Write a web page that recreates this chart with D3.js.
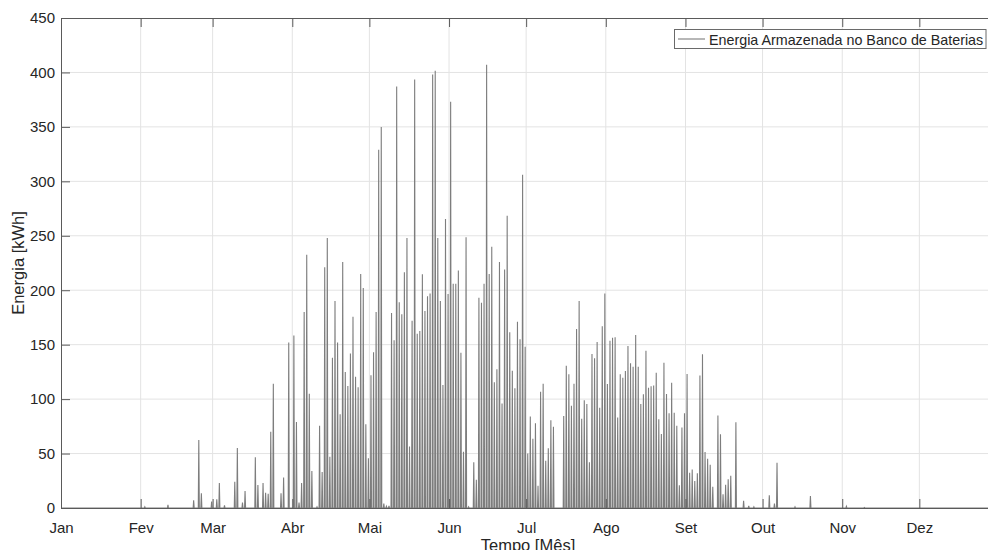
<!DOCTYPE html>
<html>
<head>
<meta charset="utf-8">
<script src="https://cdn.jsdelivr.net/npm/d3@7"></script>
<style>
  html, body { margin: 0; padding: 0; background: #ffffff; }
  svg { display: block; }
  text { font-family: "Liberation Sans", Arial, Helvetica, sans-serif; fill: #262626; }
</style>
</head>
<body>
<svg id="chart" width="988" height="550"></svg>
<script>
// ---- Data ----
const monthLabels = ["Jan", "Fev", "Mar", "Abr", "Mai", "Jun", "Jul", "Ago", "Set", "Out", "Nov", "Dez"];
const monthStartDays = [0, 31, 59, 90, 120, 151, 181, 212, 243, 273, 304, 334];
const yTickValues = [0, 50, 100, 150, 200, 250, 300, 350, 400, 450];

// day of year (0 = 1 Jan) on which the stored energy peaks
const peakDays = [
  32, 41, 51, 53, 54, 58, 60, 61, 63, 67, 68, 70, 71, 75, 76, 78, 79, 80, 81, 82,
  85, 86, 88, 90, 91, 92, 93, 94, 95, 96, 97, 99, 100, 101, 102, 103, 104, 105, 106, 107,
  108, 109, 110, 111, 112, 113, 114, 115, 116, 117, 118, 119, 120, 121, 122, 123, 124, 125, 126, 127,
  128, 129, 130, 131, 132, 133, 134, 135, 136, 137, 138, 139, 140, 141, 142, 143, 144, 145, 146, 147,
  148, 149, 150, 151, 152, 153, 154, 155, 156, 157, 158, 160, 161, 162, 163, 164, 165, 166, 167, 168,
  169, 170, 171, 172, 173, 174, 175, 176, 177, 178, 179, 180, 181, 182, 183, 184, 185, 186, 187, 188,
  189, 190, 191, 195, 196, 197, 198, 199, 200, 201, 202, 203, 204, 205, 206, 207, 208, 209, 210, 211,
  212, 213, 214, 215, 216, 217, 218, 219, 220, 221, 222, 223, 224, 225, 226, 227, 228, 229, 230, 231,
  232, 233, 234, 235, 236, 237, 238, 239, 240, 241, 242, 243, 244, 245, 246, 247, 248, 249, 250, 251,
  252, 253, 255, 256, 257, 258, 259, 260, 262, 265, 267, 269, 275, 277, 278, 285, 291, 305, 312
];
// daily peak of energy stored in the battery bank [kWh]
const peakValues = [
  1, 3, 7, 62.5, 13.5, 6, 8, 23, 2.5, 24, 55, 5, 15.5, 46.5, 21, 23, 14, 13, 70, 114,
  13.5, 28, 152, 158.5, 79, 5, 23, 180, 232.6, 105, 34, 1, 75.6, 33, 221, 248, 47, 138, 190, 152,
  86, 226, 125, 112, 142, 175.7, 120.6, 111, 215, 202, 77, 45.6, 122, 143, 180, 329, 350, 4, 1.5, 2,
  179, 154, 387, 189, 178, 216.5, 248, 56.5, 172, 393.5, 160, 162.5, 214.6, 181, 194.5, 197, 398, 401.6, 248, 190,
  113, 265.5, 196.5, 373, 206, 206, 218, 142.5, 51.7, 248.6, 1, 42, 26, 193, 188.5, 206, 407, 215, 240, 115.4,
  127.5, 226, 96, 219, 268.5, 161.3, 126, 110, 171, 155, 306, 148, 50, 84, 63.5, 77.8, 20.5, 106.7, 114, 43.5,
  54.8, 80.5, 74.7, 84.5, 130.7, 122.8, 94, 114, 164.4, 190, 82, 99, 95.5, 42, 141.4, 137.5, 152.5, 92, 167, 197,
  113.8, 153.7, 156.4, 156.8, 83, 122.8, 119.7, 125.8, 148.8, 133, 129.8, 158.8, 129.8, 95.5, 104.5, 144.5, 110.5, 111.7, 112.5, 124.3,
  81.6, 68, 133.4, 104.7, 87, 115, 87.5, 75.6, 20.8, 74, 87, 123, 32.4, 35.4, 24.8, 31.8, 121.6, 141.2, 51.4, 45.3,
  39.8, 19.5, 85, 67.7, 12.6, 21.3, 26.3, 29.7, 78.7, 6.7, 2, 1, 11.6, 4, 41.6, 1, 11, 1.5, 0.5
];
const seriesName = "Energia Armazenada no Banco de Baterias";
const xLabel = "Tempo [Mês]";
const yLabel = "Energia [kWh]";
const daysInYear = 365;

// ---- Layout ----
const svg = d3.select("#chart");
const plotL = 61, plotT = 18, plotR = 999, plotB = 508;

const x = d3.scaleLinear().domain([0, daysInYear]).range([plotL, plotR]);
const y = d3.scaleLinear().domain([0, 450]).range([plotB, plotT]);

// grid
const grid = svg.append("g");
grid.selectAll("line.gx").data(monthStartDays.slice(1)).join("line")
  .attr("x1", d => x(d)).attr("x2", d => x(d))
  .attr("y1", plotT).attr("y2", plotB)
  .attr("stroke", "#e3e3e3").attr("stroke-width", 1);
grid.selectAll("line.gy").data(yTickValues.slice(1, -1)).join("line")
  .attr("x1", plotL).attr("x2", plotR)
  .attr("y1", d => y(d)).attr("y2", d => y(d))
  .attr("stroke", "#e3e3e3").attr("stroke-width", 1);

// series: one narrow spike per day
const daily = new Array(daysInYear).fill(0);
peakDays.forEach((d, i) => { daily[d] = peakValues[i]; });
const pts = [];
daily.forEach((v, d) => {
  pts.push([d + 0.42, 0]);
  pts.push([d + 0.62, v]);
  pts.push([d + 0.82, 0]);
});
svg.append("clipPath").attr("id", "clip").append("rect")
  .attr("x", plotL).attr("y", plotT).attr("width", plotR - plotL).attr("height", plotB - plotT);
const line = d3.line().x(p => x(p[0])).y(p => y(p[1]));
svg.append("path")
  .attr("clip-path", "url(#clip)")
  .attr("d", line(pts))
  .attr("fill", "none")
  .attr("stroke", "#7d7d7d")
  .attr("stroke-width", 1.1)
  .attr("stroke-linejoin", "miter");

// axes
const axisColor = "#5a5a5a";
const tickLen = 9;
const xAxisB = d3.axisBottom(x).tickValues(monthStartDays)
  .tickFormat((d, i) => monthLabels[i]).tickSizeInner(-tickLen).tickSizeOuter(0).tickPadding(tickLen + 5);
const gxb = svg.append("g").attr("transform", `translate(0,${plotB})`).call(xAxisB);
const xAxisT = d3.axisTop(x).tickValues(monthStartDays).tickFormat("").tickSizeInner(-tickLen).tickSizeOuter(0);
const gxt = svg.append("g").attr("transform", `translate(0,${plotT})`).call(xAxisT);
const yAxisL = d3.axisLeft(y).tickValues(yTickValues).tickSizeInner(-tickLen).tickSizeOuter(0).tickPadding(6);
const gyl = svg.append("g").attr("transform", `translate(${plotL},0)`).call(yAxisL);

[gxb, gxt, gyl].forEach(g => {
  g.selectAll(".domain").attr("stroke", axisColor).attr("stroke-width", 1);
  g.selectAll(".tick line").attr("stroke", axisColor).attr("stroke-width", 1);
  g.selectAll(".tick text")
    .attr("font-family", "'Liberation Sans', Arial, Helvetica, sans-serif")
    .attr("font-size", 15).attr("fill", "#262626");
});
gxb.selectAll(".tick text").attr("dy", "0.71em");

// axis labels
svg.append("text")
  .attr("x", (plotL + plotR) / 2 - 2).attr("y", 551)
  .attr("text-anchor", "middle").attr("font-size", 16.5)
  .text(xLabel);
svg.append("text")
  .attr("transform", `translate(24,${(plotT + plotB) / 2}) rotate(-90)`)
  .attr("text-anchor", "middle").attr("font-size", 16.5)
  .text(yLabel);

// legend
const lg = svg.append("g");
lg.append("rect")
  .attr("x", 674.5).attr("y", 29.5).attr("width", 311.5).attr("height", 19)
  .attr("fill", "#ffffff").attr("stroke", "#6a6a6a").attr("stroke-width", 1);
lg.append("line")
  .attr("x1", 678).attr("x2", 705).attr("y1", 39).attr("y2", 39)
  .attr("stroke", "#7d7d7d").attr("stroke-width", 1.1);
lg.append("text")
  .attr("x", 709).attr("y", 44.5).attr("font-size", 14.3)
  .text(seriesName);
</script>
</body>
</html>
